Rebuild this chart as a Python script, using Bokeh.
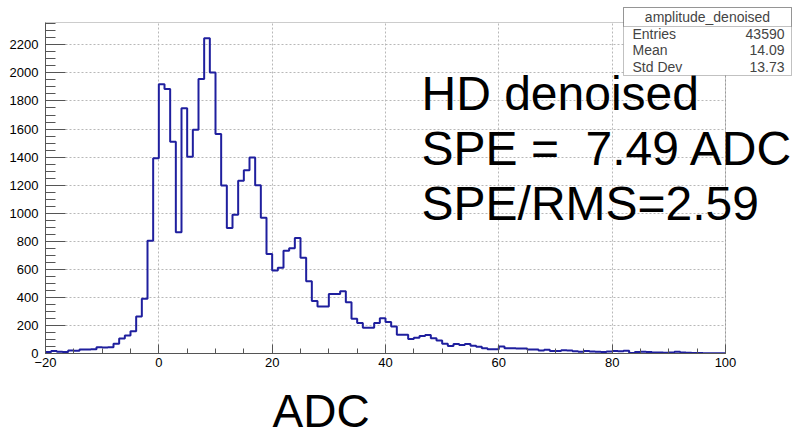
import numpy as np
from bokeh.plotting import figure
from bokeh.layouts import column
from bokeh.models import Label, BoxAnnotation, SingleIntervalTicker, Range1d
from bokeh.embed import file_html
from bokeh.resources import INLINE

# ---- data (1-ADC bins from -20 to 100) ----
bin_start = -20
bin_width = 1
counts_neg = [10, 17, 12, 10, 21, 20, 28, 28, 30, 45, 43, 45, 69, 107, 128, 159, 264, 391, 804, 1392]  # bins -20..-1
counts_core = [1919, 1886, 1509, 864, 1749, 1402, 1594, 1957, 2247, 2003,
               1564, 1198, 895, 989, 1231, 1307, 1397, 1200, 968, 709,
               591, 612, 733, 750, 823, 683, 515, 375, 335, 335]  # bins 0..29
counts_mid = [425, 425, 444, 365, 247, 218, 183, 183, 218, 251,
              225, 192, 133, 133, 104, 113, 124, 131, 108, 93,
              70, 54, 67, 60, 67, 55, 48, 38, 30, 30]  # bins 30..59
counts_tail = [50, 38, 38, 36, 36, 28, 28, 21, 26, 18,
               18, 24, 21, 16, 12, 17, 14, 12, 10, 14,
               17, 16, 20, 3, 11, 12, 10, 7, 7, 6,
               8, 12, 7, 6, 3, 3, 2, 2, 2, 2]  # bins 60..99

hist_name = "amplitude_denoised"
stats_labels = ["Entries", "Mean", "Std Dev"]
stats_values = ["43590", "14.09", "13.73"]
text_lines = ["HD denoised", "SPE =\u00a0\u00a07.49 ADC", "SPE/RMS=2.59"]
x_title = "ADC"

# ---- build ----
counts = np.array(counts_neg + counts_core + counts_mid + counts_tail, dtype=float)
edges = bin_start + bin_width * np.arange(len(counts) + 1)
step_y = np.append(counts, counts[-1])

XMIN, XMAX = -20, 100
YMIN, YMAX = 0, 1.05 * counts.max()
W, H = 792, 436
H_MAIN = 376                         # main figure height; the x title strip sits below it
L, R, T, B = 45, 725, 22, 353        # the ROOT frame in pixels
px_per_x = (R - L) / (XMAX - XMIN)
px_per_y = (B - T) / (YMAX - YMIN)
# the Bokeh frame spans to the right and top canvas edges so nothing is clipped
X_END = XMIN + (W - L) / px_per_x
Y_END = YMIN + B / px_per_y

def dx(px):
    return XMIN + (px - L) / px_per_x

def dy(py):
    return YMIN + (B - py) / px_per_y

p = figure(width=W, height=H_MAIN, x_range=Range1d(XMIN, X_END), y_range=Range1d(YMIN, Y_END),
           output_backend="svg", toolbar_location=None,
           min_border_left=L, min_border_right=0, min_border_top=0, min_border_bottom=H_MAIN - B)
p.background_fill_color = "white"
p.border_fill_color = "white"
p.outline_line_color = None

FRAME_COLOR = "#555555"
FONT = "Liberation Sans"

# axes
p.xaxis.ticker = SingleIntervalTicker(interval=20, num_minor_ticks=4)
p.yaxis.ticker = SingleIntervalTicker(interval=200, num_minor_ticks=4)
p.xaxis.bounds = (XMIN, XMAX)
p.yaxis.bounds = (YMIN, YMAX)
for ax in (p.xaxis[0], p.yaxis[0]):
    ax.axis_line_color = FRAME_COLOR
    ax.major_tick_line_color = FRAME_COLOR
    ax.minor_tick_line_color = FRAME_COLOR
    ax.major_label_text_font = FONT
    ax.major_label_text_font_size = "13px"
    ax.major_label_text_color = "black"
    ax.major_tick_out = 0
    ax.minor_tick_out = 0
p.xaxis.major_tick_in = 9
p.xaxis.minor_tick_in = 5
p.yaxis.major_tick_in = 20
p.yaxis.minor_tick_in = 10
p.xaxis.major_label_standoff = 4
p.yaxis.major_label_standoff = 7

for g in (p.xgrid[0], p.ygrid[0]):
    g.grid_line_color = "#b8b8b8"
    g.grid_line_dash = "2 2"
    g.grid_line_width = 1
p.xgrid.bounds = (XMIN, XMAX)
p.xgrid.cross_bounds = (YMIN, YMAX)
p.ygrid.bounds = (YMIN, YMAX)
p.ygrid.cross_bounds = (XMIN, XMAX)

# ROOT frame border
p.add_layout(BoxAnnotation(left=XMIN, right=XMAX, bottom=YMIN, top=YMAX, fill_alpha=0.0,
                           line_color=FRAME_COLOR, line_width=1, level="underlay"))

p.step(x=edges, y=step_y, mode="after", line_color="#1f1f9e", line_width=2)

# big annotation text
for line, base in zip(text_lines, [93, 148, 203]):
    p.add_layout(Label(x=dx(421), y=dy(base), text=line, text_font=FONT, text_font_size="48px",
                       text_color="black", text_baseline="alphabetic", text_align="left"))

# stats box
bl, br, bt, bb = 623, 791, 7, 75
p.add_layout(BoxAnnotation(left=dx(bl), right=dx(br), top=dy(bt), bottom=dy(bb),
                           fill_color="white", fill_alpha=1.0, line_color="#333333", line_width=1,
                           level="overlay"))
p.add_layout(BoxAnnotation(left=dx(bl), right=dx(br), top=dy(bt), bottom=dy(26),
                           fill_alpha=0.0, line_color="#333333", line_width=1, level="overlay"))
p.add_layout(Label(x=dx((bl + br) / 2), y=dy(16), text=hist_name, text_font=FONT,
                   text_font_size="14px", text_align="center", text_baseline="alphabetic",
                   level="overlay"))
for i, (lab, val) in enumerate(zip(stats_labels, stats_values)):
    base = 33 + i * 16.5
    p.add_layout(Label(x=dx(632), y=dy(base), text=lab, text_font=FONT, text_font_size="14px",
                       text_align="left", text_baseline="alphabetic", level="overlay"))
    p.add_layout(Label(x=dx(784), y=dy(base), text=val, text_font=FONT, text_font_size="14px",
                       text_align="right", text_baseline="alphabetic", level="overlay"))

# strip below the main figure holding the x-axis title
# (the column aligns its frame with the main frame, so it spans x = L..W in pixels)
H_STRIP = H - H_MAIN
p2 = figure(width=W, height=H_STRIP, x_range=Range1d(L, W), y_range=Range1d(0, H_STRIP),
            output_backend="svg", toolbar_location=None, x_axis_type=None, y_axis_type=None,
            min_border=0)
p2.background_fill_color = "white"
p2.border_fill_color = "white"
p2.outline_line_color = None
p2.xgrid.visible = False
p2.ygrid.visible = False
p2.add_layout(Label(x=272, y=H - 410, text=x_title, text_font=FONT, text_font_size="46px",
                    text_color="black", text_baseline="alphabetic", text_align="left"))

layout = column(p, p2, spacing=0)
open("out.html", "w").write(file_html(layout, INLINE))
